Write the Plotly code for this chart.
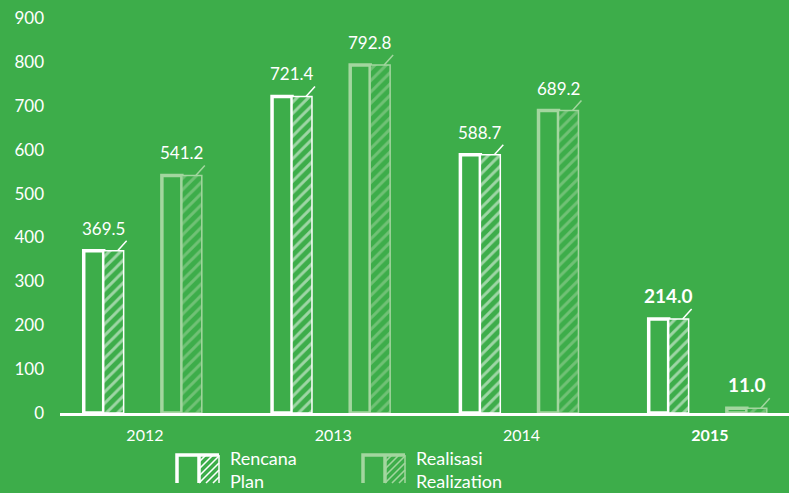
import plotly.graph_objects as go

# Annual figures: plan vs. realization
years = ["2012", "2013", "2014", "2015"]
rencana = [369.5, 721.4, 588.7, 214.0]
realisasi = [541.2, 792.8, 689.2, 11.0]
tick_labels = ["2012", "2013", "2014", "<b>2015</b>"]
y_ticks = [0, 100, 200, 300, 400, 500, 600, 700, 800, 900]
legend_labels = ["Rencana<br>Plan", "Realisasi<br>Realization"]

BG = "#3dad4a"
WHITE = "#ffffff"
LIGHT = "#a3d69f"
FONT = "Lato"

W, H = 789, 493
ML, MR, MT, MB = 60, 0, 18, 80
PW, PH = W - ML - MR, H - MT - MB

xpos = list(range(len(years)))
half = 0.106

fig = go.Figure()
annotations = []
shapes = []


def add_series(values, start, color):
    # plain outlined half
    fig.add_trace(go.Bar(
        x=xpos, y=values, offset=start, width=half,
        marker=dict(color="rgba(0,0,0,0)", line=dict(color=color, width=3.5)),
        showlegend=False, hoverinfo="skip",
    ))
    # hatched half
    fig.add_trace(go.Bar(
        x=xpos, y=values, offset=start + half, width=half,
        marker=dict(
            color=BG,
            line=dict(color=color, width=1.5),
            pattern=dict(shape="/", fgcolor=color, bgcolor=BG, size=8, solidity=0.36),
        ),
        showlegend=False, hoverinfo="skip",
    ))
    last = len(values) - 1
    for i, v in enumerate(values):
        # hand-drawn flick at the top-right corner of each bar
        shapes.append(dict(
            type="line", xref="x", yref="y",
            xsizemode="pixel", ysizemode="pixel",
            xanchor=i + start + 2 * half, yanchor=v,
            x0=-6, y0=0, x1=3, y1=10,
            line=dict(color=color, width=1.5),
        ))
        # value label centred over the full bar
        bold = i == last
        annotations.append(dict(
            x=i + start + half, y=v, xref="x", yref="y",
            text=f"<b>{v:.1f}</b>" if bold else f"{v:.1f}",
            showarrow=False, yanchor="bottom", yshift=10,
            font=dict(color=WHITE, family=FONT, size=19 if bold else 17),
        ))


add_series(rencana, -0.325, WHITE)
add_series(realisasi, 0.09, LIGHT)


# legend keys drawn in pixel space, converted to paper coordinates
def px(x):
    return (x - ML) / PW


def py(y):
    return (H - MB - y) / PH


def legend_key(x0, color, label):
    top, bot, mid, x1 = 455, 483, x0 + 22, x0 + 42
    # outlined half
    shapes.append(dict(type="path", xref="paper", yref="paper",
                       path=f"M{px(x0)},{py(bot)} L{px(x0)},{py(top)} L{px(x1)},{py(top)} "
                            f"M{px(mid)},{py(top)} L{px(mid)},{py(bot)}",
                       line=dict(color=color, width=3.5)))
    shapes.append(dict(type="line", xref="paper", yref="paper",
                       x0=px(x1), y0=py(top), x1=px(x1), y1=py(bot),
                       line=dict(color=color, width=1.5)))
    # diagonal hatching in the right half
    step = 7
    s = mid - (bot - top)
    while s < x1:
        ax, ay = s, bot
        bx, by = s + (bot - top), top
        if ax < mid:
            ay -= (mid - ax)
            ax = mid
        if bx > x1:
            by += (bx - x1)
            bx = x1
        if ax < bx:
            shapes.append(dict(type="line", xref="paper", yref="paper",
                               x0=px(ax), y0=py(ay), x1=px(bx), y1=py(by),
                               line=dict(color=color, width=1.6)))
        s += step
    annotations.append(dict(
        x=px(x1 + 9), y=py(470), xref="paper", yref="paper",
        xanchor="left", yanchor="middle", align="left", showarrow=False,
        text=label, font=dict(color=WHITE, family=FONT, size=18),
    ))


legend_key(177, WHITE, legend_labels[0])
legend_key(363, LIGHT, legend_labels[1])

fig.update_layout(
    width=W, height=H,
    paper_bgcolor=BG, plot_bgcolor=BG,
    margin=dict(l=ML, r=MR, t=MT, b=MB, autoexpand=False),
    barmode="overlay",
    showlegend=False,
    font=dict(family=FONT, color=WHITE, size=16),
    xaxis=dict(
        range=[-0.451, 3.42], tickvals=xpos, ticktext=tick_labels,
        showgrid=False, zeroline=False, showline=True, linecolor=WHITE, linewidth=2.5,
        ticks="", tickfont=dict(size=16, color=WHITE, family=FONT), ticklabelstandoff=6,
    ),
    yaxis=dict(
        range=[0, 900], tickvals=y_ticks, showgrid=False, zeroline=False, showline=False,
        ticks="", tickfont=dict(size=17, color=WHITE, family=FONT), ticklabelstandoff=15,
    ),
    shapes=shapes,
    annotations=annotations,
)

fig.write_html("out.html")
